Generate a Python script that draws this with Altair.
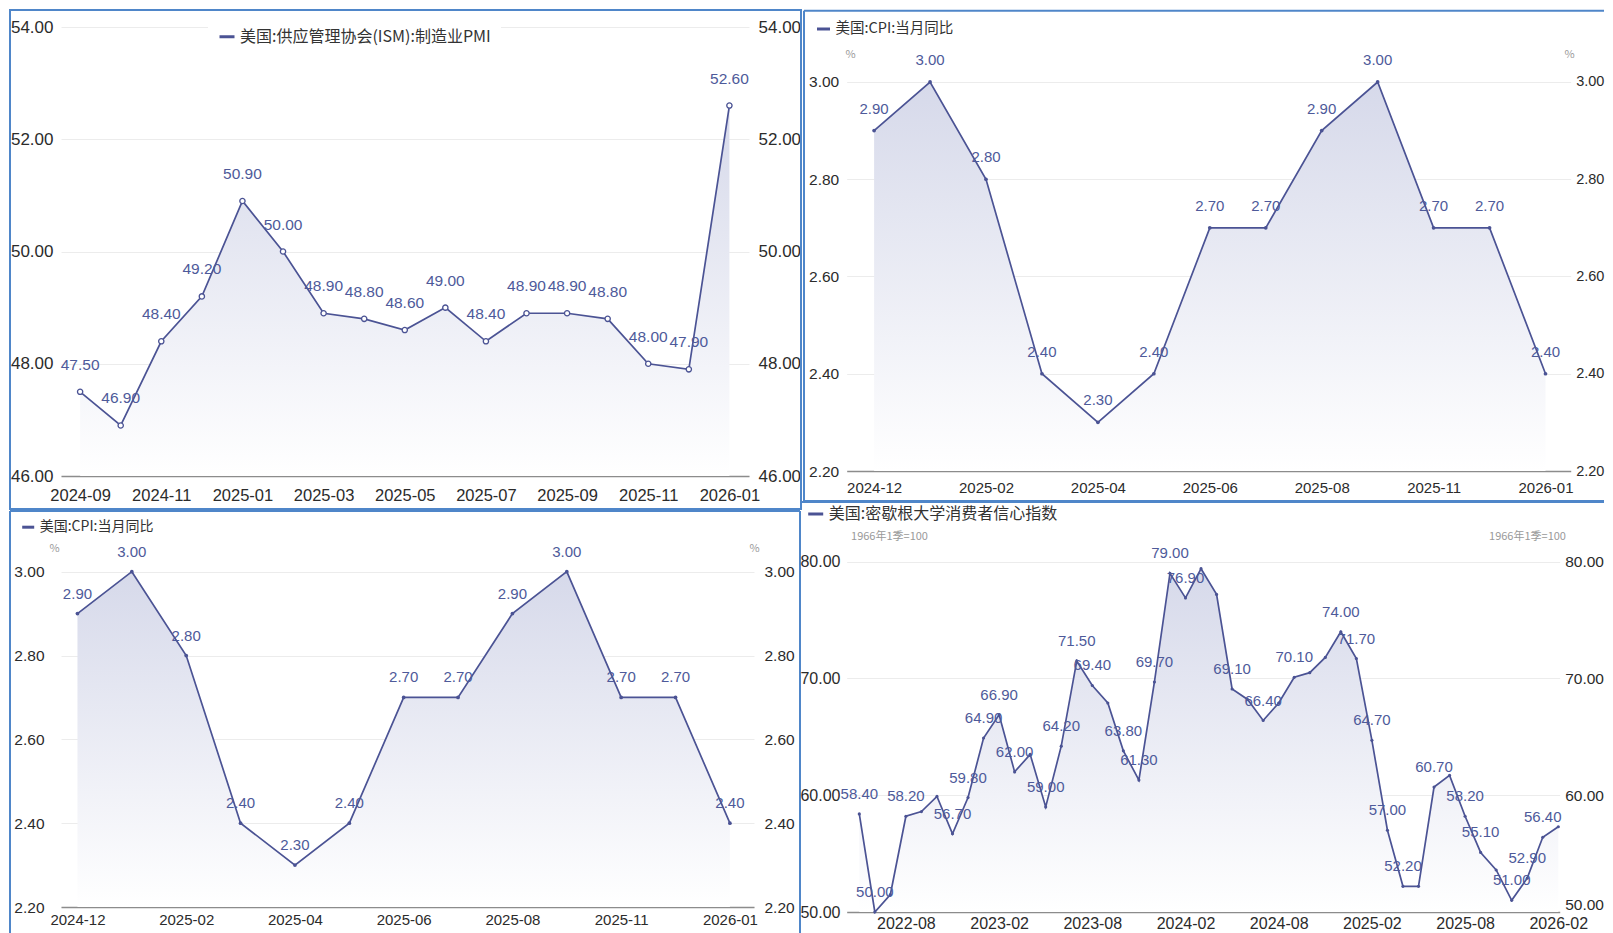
import altair as alt
import pandas as pd

# ---------------- data ----------------
ism_name = "美国:供应管理协会(ISM):制造业PMI"
ism_months = ["2024-09", "2024-10", "2024-11", "2024-12", "2025-01", "2025-02",
              "2025-03", "2025-04", "2025-05", "2025-06", "2025-07", "2025-08",
              "2025-09", "2025-10", "2025-11", "2025-12", "2026-01"]
ism_values = [47.5, 46.9, 48.4, 49.2, 50.9, 50.0, 48.9, 48.8, 48.6, 49.0, 48.4,
              48.9, 48.9, 48.8, 48.0, 47.9, 52.6]
ism_ticks = ["2024-09", "2024-11", "2025-01", "2025-03", "2025-05", "2025-07",
             "2025-09", "2025-11", "2026-01"]
ism_yticks = [46, 48, 50, 52, 54]

cpi_name = "美国:CPI:当月同比"
cpi_months = ["2024-12", "2025-01", "2025-02", "2025-03", "2025-04", "2025-05",
              "2025-06", "2025-07", "2025-08", "2025-09", "2025-11", "2025-12",
              "2026-01"]
cpi_values = [2.9, 3.0, 2.8, 2.4, 2.3, 2.4, 2.7, 2.7, 2.9, 3.0, 2.7, 2.7, 2.4]
cpi_ticks = ["2024-12", "2025-02", "2025-04", "2025-06", "2025-08", "2025-11",
             "2026-01"]
cpi_yticks = [2.2, 2.4, 2.6, 2.8, 3.0]
cpi_unit = "%"

um_name = "美国:密歇根大学消费者信心指数"
um_unit = "1966年1季=100"
um_months = ["2022-05", "2022-06", "2022-07", "2022-08", "2022-09", "2022-10",
             "2022-11", "2022-12",
             "2023-01", "2023-02", "2023-03", "2023-04", "2023-05", "2023-06",
             "2023-07", "2023-08", "2023-09", "2023-10", "2023-11", "2023-12",
             "2024-01", "2024-02", "2024-03", "2024-04", "2024-05", "2024-06",
             "2024-07", "2024-08", "2024-09", "2024-10", "2024-11", "2024-12",
             "2025-01", "2025-02", "2025-03", "2025-04", "2025-05", "2025-06",
             "2025-07", "2025-08", "2025-09", "2025-10", "2025-11", "2025-12",
             "2026-01", "2026-02"]
um_values = [58.4, 50.0, 51.5, 58.2, 58.6, 59.9, 56.7, 59.8,
             64.9, 66.9, 62.0, 63.5, 59.0, 64.2, 71.5, 69.4, 67.9, 63.8, 61.3, 69.7,
             79.0, 76.9, 79.4, 77.2, 69.1, 68.2, 66.4, 67.9, 70.1, 70.5, 71.8, 74.0,
             71.7, 64.7, 57.0, 52.2, 52.2, 60.7, 61.7, 58.2, 55.1, 53.6, 51.0, 52.9,
             56.4, 57.3]
um_show = [1, 1, 0, 1, 0, 0, 1, 1,
           1, 1, 1, 0, 1, 1, 1, 1, 0, 1, 1, 1,
           1, 1, 0, 0, 1, 0, 1, 0, 1, 0, 0, 1,
           1, 1, 1, 1, 0, 1, 0, 1, 1, 0, 1, 1,
           1, 0]
um_ticks = ["2022-08", "2023-02", "2023-08", "2024-02", "2024-08", "2025-02",
            "2025-08", "2026-02"]
um_yticks = [50, 60, 70, 80]

# ---------------- style ----------------
LINE = "#4b5394"
LABEL = "#4e5a9a"
AXIS_TXT = "#2b2b2b"
GRID = "#ececec"
BASE = "#8c8c8c"
BORDER = "#4f86c9"
UNIT = "#9a9a9a"
NUMF = "Liberation Sans, Arial, sans-serif"
CJKF = "Noto Sans CJK SC, sans-serif"

AREA = alt.Gradient(
    gradient="linear",
    stops=[alt.GradientStop(color="#ffffff", offset=0),
           alt.GradientStop(color="#d6d9ea", offset=1)],
    x1=1, x2=1, y1=1, y2=0,
)

one = pd.DataFrame({"k": [0]})


def hrule(x1, x2, y):
    return alt.Chart(one).mark_rule(color=BORDER, strokeWidth=2).encode(
        x=alt.value(x1), x2=alt.value(x2), y=alt.value(y))


def vrule(x, y1, y2):
    return alt.Chart(one).mark_rule(color=BORDER, strokeWidth=2).encode(
        x=alt.value(x), y=alt.value(y1), y2=alt.value(y2))


def box(x1, x2, y1, y2):
    return alt.Chart(one).mark_rect(filled=False, color=BORDER, strokeWidth=2).encode(
        x=alt.value(x1), x2=alt.value(x2), y=alt.value(y1), y2=alt.value(y2))


def yaxis(orient, c):
    left = orient == "left"
    kw = dict(orient=orient, values=c["yticks"], format=".2f", domain=False,
              ticks=False, labelFontSize=c["yfs"] if left else c["yfs_r"],
              labelFont=NUMF, labelColor=AXIS_TXT,
              labelFlush=(not left) and c.get("rflush", False),
              labelOverlap=False, labelBound=False, grid=left,
              gridColor=GRID, gridWidth=1,
              labelPadding=c["ylp_l"] if left else c["ylp_r"])
    if c.get("unit"):
        tx, ty = c["ut_l"] if left else c["ut_r"]
        kw.update(title=c["unit"], titleAngle=0, titleX=tx, titleY=ty,
                  titleAlign="center", titleBaseline="middle", titleFontSize=11,
                  titleFont=CJKF, titleColor=UNIT, titleFontWeight="normal")
    else:
        kw["title"] = None
    return alt.Axis(**kw)


def panel(months, values, ticks, name, show, c):
    df = pd.DataFrame({"m": months, "v": values, "s": [name] * len(months),
                       "show": show if show is not None else [1] * len(months)})
    xs = alt.Scale(type="point", domain=months, padding=c["pad"],
                   align=c["align"], round=False)
    xax = alt.Axis(orient="bottom", values=ticks, labelAngle=0, domain=True,
                   domainColor=BASE, domainWidth=1.5, ticks=False, grid=False,
                   labelPadding=c["xlp"], labelFontSize=c["xfs"], labelFont=NUMF,
                   labelColor=AXIS_TXT, labelOverlap=False, labelBound=False,
                   labelFlush=False, title=None)
    X = alt.X("m:O", scale=xs, axis=xax)
    ys = alt.Scale(domain=c["ydom"], nice=False, zero=False)
    Yl = alt.Y("v:Q", scale=ys, axis=yaxis("left", c))
    base = alt.Chart(df)

    leg = dict(orient="none", legendX=c["lx"], legendY=c["ly"], title=None,
               symbolType="stroke", symbolStrokeWidth=3, symbolSize=c["lsize"],
               labelFontSize=c["lfs"], labelFont=CJKF, labelColor="#333333",
               labelLimit=600, padding=10, labelOffset=4)
    if c.get("lfill"):
        leg["fillColor"] = "white"

    area = base.mark_area(color=AREA, opacity=1).encode(
        x=X, y=Yl, y2=alt.datum(c["ydom"][0]))
    line = base.mark_line(strokeWidth=1.7).encode(
        x=X, y=Yl,
        color=alt.Color("s:N", scale=alt.Scale(range=[LINE]),
                        legend=alt.Legend(**leg)))
    if c["hollow"]:
        pts = base.mark_point(filled=True, fill="white", stroke=LINE,
                              strokeWidth=1.3, size=c["psize"], opacity=1
                              ).encode(x=X, y=Yl)
    else:
        pts = base.mark_point(filled=True, color=LINE, size=c["psize"],
                              opacity=1).encode(x=X, y=Yl)
    txt = base.transform_filter("datum.show == 1").mark_text(
        dy=c["dy"], fontSize=c["tfs"], font=NUMF, color=LABEL
    ).encode(x=X, y=Yl, text=alt.Text("v:Q", format=".2f"))
    right = base.mark_point(opacity=0).encode(
        x=X, y=alt.Y("v:Q", scale=ys, axis=yaxis("right", c)))

    return alt.layer(alt.layer(area, line, pts, txt), right, *c["frame"]
                     ).resolve_scale(y="independent").properties(
        width=c["W"], height=c["H"])


tl_cfg = dict(W=688, H=449, pad=0.477, align=0.494, ydom=[46, 54],
              yticks=ism_yticks, yfs=17, yfs_r=17, ylp_l=8, ylp_r=9, unit=None,
              xfs=16.5, xlp=11.9, tfs=15.5, dy=-27, hollow=True, psize=28,
              lfs=16, lx=147, ly=-9.25, lsize=225, lfill=True,
              frame=[box(-51, 740, -17, 482)])

tr_cfg = dict(W=724, H=444, pad=0.470, align=0.521, ydom=[2.2, 3.1131],
              yticks=cpi_yticks, yfs=15.5, yfs_r=14.5, ylp_l=8, ylp_r=5,
              unit=cpi_unit, ut_l=(3.3, 27), ut_r=(-1.7, 27),
              xfs=15, xlp=9.2, tfs=15, dy=-22, hollow=False, psize=14,
              lfs=14.5, lx=-41.2, ly=-16, lsize=169,
              frame=[hrule(-42.7, 757.3, -16.3), vrule(-42.7, -16.3, 474),
                     hrule(-42.7, 757.3, 474)])

bl_cfg = dict(W=693, H=367, pad=0.373, align=0.406, ydom=[2.2, 3.0756],
              yticks=cpi_yticks, yfs=15.5, yfs_r=15.5, ylp_l=17, ylp_r=10,
              unit=cpi_unit, ut_l=(-7, 8), ut_r=(0, 8),
              xfs=15, xlp=5.5, tfs=15, dy=-20, hollow=False, psize=14,
              lfs=14, lx=-50.3, ly=-30.3, lsize=144,
              frame=[hrule(-51, 739, -29), vrule(-51, -29, 393),
                     vrule(739, -29, 393)])

br_cfg = dict(W=713, H=372, pad=0.4506, align=0.9, ydom=[50, 81.858],
              yticks=um_yticks, yfs=16, yfs_r=15.5, ylp_l=6.7, ylp_r=5,
              rflush=True,
              unit=um_unit, ut_l=(42.3, -4), ut_r=(-32.7, -4),
              xfs=16, xlp=3, tfs=15, dy=-20, hollow=False, psize=10,
              lfs=16, lx=-50, ly=-45, lsize=225,
              frame=[hrule(-46.7, 757.3, -38)])

tl = panel(ism_months, ism_values, ism_ticks, ism_name, None, tl_cfg)
tr = panel(cpi_months, cpi_values, cpi_ticks, cpi_name, None, tr_cfg)
bl = panel(cpi_months, cpi_values, cpi_ticks, cpi_name, None, bl_cfg)
br = panel(um_months, um_values, um_ticks, um_name, um_show, br_cfg)

chart = alt.concat(
    tl, tr, bl, br, columns=2,
    spacing={"row": 64, "column": 92.7}, bounds="flush",
).resolve_scale(color="independent").resolve_legend(color="independent").properties(
    padding={"left": 1, "top": 1, "right": 0, "bottom": 0},
    background="white",
).configure(font=NUMF).configure_view(stroke=None)

chart.save("out.html", embed_options={"renderer": "svg", "actions": False})
